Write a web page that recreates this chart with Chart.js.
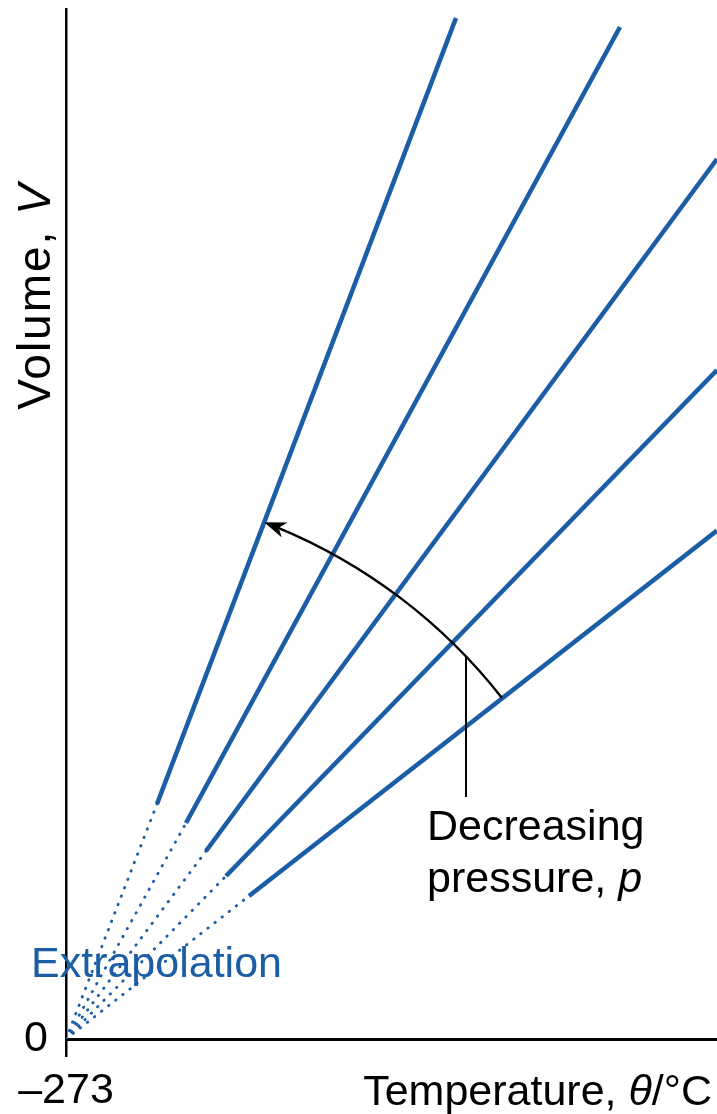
<!DOCTYPE html>
<html lang="en">
<head>
<meta charset="UTF-8">
<title>Volume against temperature</title>
<script src="https://cdn.jsdelivr.net/npm/chart.js"></script>
<style>
  * { margin: 0; padding: 0; box-sizing: border-box; }
  body { background: #fff; }
  canvas { display: block; }
</style>
</head>
<body>
<canvas id="chart" width="717" height="1114"></canvas>
<script>
const blue = '#1b5ea6';
const FONT = '"Liberation Sans", Arial, Helvetica, sans-serif';

// x = temperature in °C, y = volume (arbitrary units)
const absZero = -273;
const xTickValues = [-273];
const xTickLabels = ['\u2013273'];
const yTickValues = [0];
const yTickLabels = ['0'];

// measured (solid) part of each line, steepest (highest pressure) first
const lineStartX = [-227.5, -213, -203, -193, -181.5];
const lineStartY = [23.5, 21.6, 18.8, 16.3, 14.3];
const lineEndX = [-78, 4, 52.5, 52.5, 52.5];
const lineEndY = [102.1, 101.2, 88.0, 66.9, 50.85];

// curved arrow: from the lowest line round to the steepest one
const arrowFrom = [-55, 34.1];
const arrowTo = [-173.5, 51.9];
// pointer line under the arrow
const pointerX = -73;
const pointerY = [38.3, 24.2];

const datasets = [];
lineStartX.forEach((sx, i) => {
  datasets.push({
    data: [{x: sx, y: lineStartY[i]}, {x: lineEndX[i], y: lineEndY[i]}],
    borderColor: blue,
    borderWidth: 4.6,
    borderCapStyle: 'butt',
    pointRadius: 0
  });
  datasets.push({
    data: [{x: absZero, y: 0}, {x: sx, y: lineStartY[i]}],
    borderColor: blue,
    borderWidth: 2.8,
    borderDash: [0.5, 8.5],
    borderCapStyle: 'round',
    pointRadius: 0
  });
});

function drawRuns(ctx, runs, x, y, align, size) {
  const fonts = runs.map(r => (r[1] ? 'italic ' : '') + size + 'px ' + FONT);
  const widths = runs.map((r, i) => { ctx.font = fonts[i]; return ctx.measureText(r[0]).width; });
  const total = widths.reduce((a, b) => a + b, 0);
  let cx = align === 'right' ? x - total : align === 'center' ? x - total / 2 : x;
  ctx.textAlign = 'left';
  ctx.textBaseline = 'alphabetic';
  runs.forEach((r, i) => {
    ctx.font = fonts[i];
    ctx.fillText(r[0], cx, y);
    cx += widths[i];
  });
}

const overlay = {
  id: 'overlay',
  afterDatasetsDraw(chart) {
    const {ctx, scales: {x, y}} = chart;
    ctx.save();

    // arc centred on absolute zero
    const cx = x.getPixelForValue(absZero), cy = y.getPixelForValue(0);
    const sx = x.getPixelForValue(arrowFrom[0]), sy = y.getPixelForValue(arrowFrom[1]);
    const tx = x.getPixelForValue(arrowTo[0]), ty = y.getPixelForValue(arrowTo[1]);
    const r = Math.hypot(sx - cx, sy - cy);
    const a0 = Math.atan2(sy - cy, sx - cx);
    const a1 = Math.atan2(ty - cy, tx - cx);
    const head = 22, w = 8;
    ctx.strokeStyle = '#000';
    ctx.lineWidth = 2.4;
    ctx.beginPath();
    ctx.arc(cx, cy, r, a0, a1 + (head * 0.6) / r, true);
    ctx.stroke();

    // arrow head
    const px = cx + r * Math.cos(a1), py = cy + r * Math.sin(a1);
    const dx = Math.sin(a1), dy = -Math.cos(a1);
    const bx = px - dx * head, by = py - dy * head;
    ctx.fillStyle = '#000';
    ctx.beginPath();
    ctx.moveTo(px, py);
    ctx.lineTo(bx - dy * w, by + dx * w);
    ctx.lineTo(px - dx * head * 0.7, py - dy * head * 0.7);
    ctx.lineTo(bx + dy * w, by - dx * w);
    ctx.closePath();
    ctx.fill();

    // pointer
    const lx = x.getPixelForValue(pointerX);
    ctx.lineWidth = 2;
    ctx.beginPath();
    ctx.moveTo(lx, y.getPixelForValue(pointerY[0]));
    ctx.lineTo(lx, y.getPixelForValue(pointerY[1]));
    ctx.stroke();

    // texts
    ctx.fillStyle = '#000';
    drawRuns(ctx, [['Decreasing', false]], 427, 840, 'left', 43);
    drawRuns(ctx, [['pressure, ', false], ['p', true]], 427, 892, 'left', 43);
    ctx.fillStyle = blue;
    drawRuns(ctx, [['Extrapolation', false]], 31, 977, 'left', 43);

    ctx.fillStyle = '#000';
    drawRuns(ctx, [['Temperature, ', false], ['\u03b8', true], ['/\u00b0C', false]], 712, 1105, 'right', 43);

    ctx.save();
    ctx.translate(50, 296);
    ctx.rotate(-Math.PI / 2);
    ctx.letterSpacing = '2px';
    drawRuns(ctx, [['Volume, ', false], ['V', true]], 0, 0, 'center', 46);
    ctx.restore();

    ctx.restore();
  }
};

new Chart(document.getElementById('chart'), {
  type: 'line',
  data: { datasets },
  plugins: [overlay],
  options: {
    responsive: false,
    animation: false,
    layout: { padding: { top: 9, right: 0, left: 0, bottom: 0 } },
    plugins: { legend: { display: false }, tooltip: { enabled: false } },
    scales: {
      x: {
        type: 'linear',
        min: absZero,
        max: 52.5,
        afterBuildTicks: s => { s.ticks = xTickValues.map(v => ({ value: v })); },
        afterFit: s => { s.height = 75; s.paddingLeft = 0; s.paddingRight = 0; },
        ticks: {
          callback: (v, i) => xTickLabels[i],
          font: { family: FONT, size: 43 },
          color: '#000',
          padding: 8,
          maxRotation: 0,
          autoSkip: false
        },
        grid: { drawOnChartArea: false, drawTicks: true, tickLength: 18, color: '#000', lineWidth: 2.5 },
        border: { display: true, color: '#000', width: 3 }
      },
      y: {
        min: 0,
        max: 103,
        afterBuildTicks: s => { s.ticks = yTickValues.map(v => ({ value: v })); },
        afterFit: s => { s.width = 66; s.paddingTop = 0; s.paddingBottom = 0; },
        ticks: {
          callback: (v, i) => yTickLabels[i],
          font: { family: FONT, size: 43 },
          color: '#000',
          padding: 10
        },
        grid: { display: false },
        border: { display: true, color: '#000', width: 2.5 }
      }
    }
  }
});
</script>
</body>
</html>
